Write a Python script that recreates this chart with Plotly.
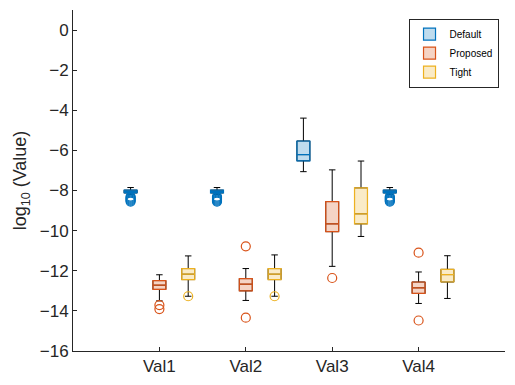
import plotly.graph_objects as go

# Data (log10 values)
groups = ["Val1", "Val2", "Val3", "Val4"]
series = ["Default", "Proposed", "Tight"]

default_q1 = [-8.12, -8.12, -6.52, -8.12]
default_med = [-8.05, -8.05, -6.21, -8.05]
default_q3 = [-7.98, -7.98, -5.53, -7.98]
default_lo = [-8.20, -8.20, -7.06, -8.20]
default_hi = [-7.85, -7.85, -4.39, -7.85]
default_out = [[-8.30, -8.35, -8.40, -8.45, -8.50, -8.55],
               [-8.30, -8.35, -8.40, -8.45, -8.50, -8.55],
               [],
               [-8.30, -8.35, -8.40, -8.45, -8.50, -8.55]]

proposed_q1 = [-12.93, -13.00, -10.05, -13.13]
proposed_med = [-12.72, -12.67, -9.66, -12.85]
proposed_q3 = [-12.49, -12.39, -8.55, -12.56]
proposed_lo = [-13.50, -13.48, -11.78, -13.63]
proposed_hi = [-12.20, -11.89, -6.97, -12.06]
proposed_out = [[-13.71, -13.91], [-10.78, -14.34], [-12.36], [-11.10, -14.48]]

tight_q1 = [-12.44, -12.44, -9.66, -12.56]
tight_med = [-12.17, -12.17, -9.16, -12.19]
tight_q3 = [-11.89, -11.89, -7.87, -11.93]
tight_lo = [-13.27, -13.27, -10.29, -13.38]
tight_hi = [-11.26, -11.21, -6.53, -11.25]
tight_out = [[-13.27], [-13.27], [], []]

FONT = "Liberation Sans, Arial, sans-serif"


def _add_series(fig, name, offset, color, fill, q1, med, q3, lo, hi, outliers):
    xs = [i + 1 + offset for i in range(len(groups))]
    # black whiskers underneath
    fig.add_trace(go.Box(
        x=xs, q1=q1, median=med, q3=q3, lowerfence=lo, upperfence=hi,
        width=0.15, whiskerwidth=0.5, boxpoints=False,
        line=dict(color="black", width=1), fillcolor="rgba(0,0,0,0)",
        showlegend=False, hoverinfo="skip"))
    # coloured box on top
    fig.add_trace(go.Box(
        x=xs, q1=q1, median=med, q3=q3, lowerfence=q1, upperfence=q3,
        width=0.15, whiskerwidth=0.5, boxpoints=False, name=name,
        line=dict(color=color, width=1.2), fillcolor=fill))
    ox, oy = [], []
    for x, vals in zip(xs, outliers):
        for v in vals:
            ox.append(x)
            oy.append(v)
    fig.add_trace(go.Scatter(
        x=ox, y=oy, mode="markers", showlegend=False,
        marker=dict(symbol="circle-open", size=9, color=color,
                    line=dict(width=1.2, color=color))))


def main():
    fig = go.Figure()
    _add_series(fig, "Default", -1 / 3, "#0072BD", "rgba(0,114,189,0.25)",
                default_q1, default_med, default_q3, default_lo, default_hi, default_out)
    _add_series(fig, "Proposed", 0, "#D95319", "rgba(217,83,25,0.25)",
                proposed_q1, proposed_med, proposed_q3, proposed_lo, proposed_hi, proposed_out)
    _add_series(fig, "Tight", 1 / 3, "#EDB120", "rgba(237,177,32,0.25)",
                tight_q1, tight_med, tight_q3, tight_lo, tight_hi, tight_out)

    # page body adds an 8px margin, so the figure is 8px smaller each way
    fig.update_layout(
        width=507, height=377,
        margin=dict(l=65, r=10, t=2, b=34),
        plot_bgcolor="white", paper_bgcolor="white",
        font=dict(family=FONT, color="#262626"),
        boxmode="overlay",
        legend=dict(x=0.985, y=0.975, xanchor="right", yanchor="top",
                    bgcolor="white", bordercolor="#262626", borderwidth=1,
                    font=dict(size=10, family=FONT, color="black"),
                    tracegroupgap=0, itemwidth=30),
    )
    fig.update_xaxes(
        range=[0, 5], tickvals=[1, 2, 3, 4], ticktext=groups,
        showline=True, linecolor="#262626", linewidth=1,
        ticks="inside", ticklen=4, tickcolor="#262626",
        showgrid=False, zeroline=False, tickfont=dict(size=17))
    fig.update_yaxes(
        range=[-16, 1], tickvals=list(range(-16, 1, 2)),
        ticktext=["\u2212" + str(-v) if v < 0 else str(v) for v in range(-16, 1, 2)],
        showline=True, linecolor="#262626", linewidth=1,
        ticks="inside", ticklen=4, tickcolor="#262626",
        showgrid=False, zeroline=False, tickfont=dict(size=17),
        title=dict(text="log<sub>10</sub> (Value)", font=dict(size=18), standoff=8))

    fig.write_html("out.html")


if __name__ == "__main__":
    main()
